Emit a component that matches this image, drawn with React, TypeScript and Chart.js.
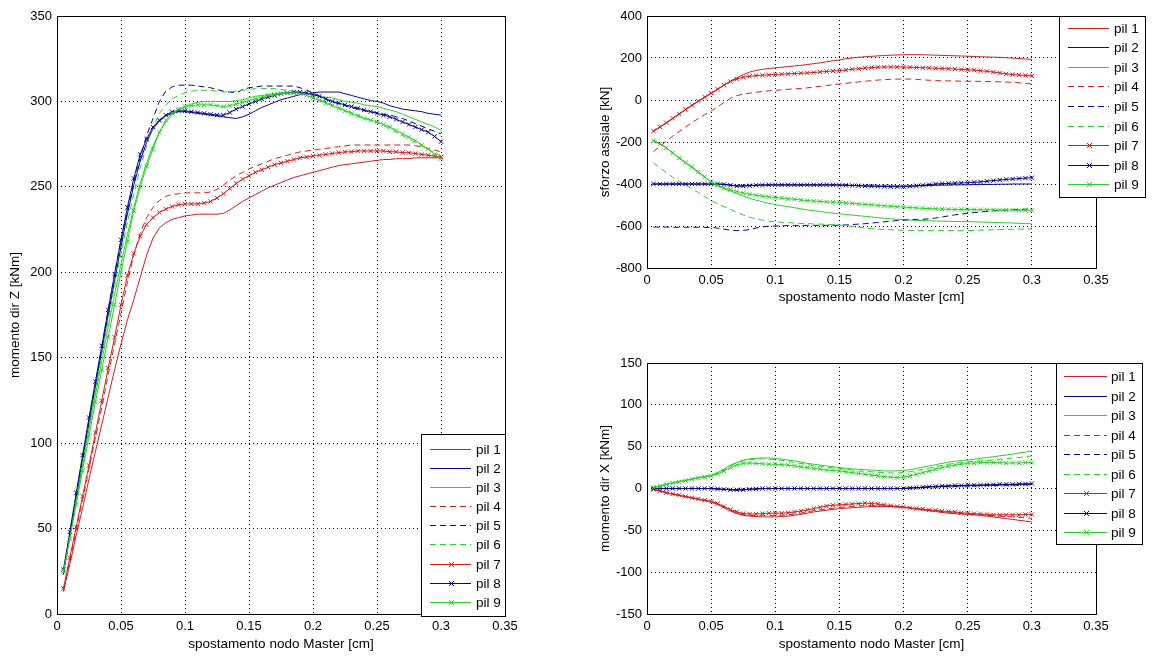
import React, { useEffect, useRef } from "react";
import { Chart, registerables } from "chart.js";

Chart.register(...registerables);

const FONT = '"Liberation Sans", Arial, Helvetica, sans-serif';

// ---------- shared data ----------
const seriesLabels = ["pil 1", "pil 2", "pil 3", "pil 4", "pil 5", "pil 6", "pil 7", "pil 8", "pil 9"];
const seriesColors = ["#cc2020", "#06068c", "#2ccf2c", "#cc2020", "#06068c", "#2ccf2c", "#cc2020", "#06068c", "#2ccf2c"];
const seriesDashed = [false, false, false, true, true, true, false, false, false];
const seriesMarked = [false, false, false, false, false, false, true, true, true];

const xTicks = [0, 0.05, 0.1, 0.15, 0.2, 0.25, 0.3, 0.35];
const xTitle = "spostamento nodo Master [cm]";

const xSteps = [
  0.005, 0.01, 0.015, 0.02, 0.025, 0.03, 0.035, 0.04, 0.045, 0.05,
  0.055, 0.06, 0.065, 0.07, 0.075, 0.08, 0.085, 0.09, 0.095, 0.1,
  0.105, 0.11, 0.115, 0.12, 0.125, 0.13, 0.135, 0.14, 0.145, 0.15,
  0.155, 0.16, 0.165, 0.17, 0.175, 0.18, 0.185, 0.19, 0.195, 0.2,
  0.205, 0.21, 0.215, 0.22, 0.225, 0.23, 0.235, 0.24, 0.245, 0.25,
  0.255, 0.26, 0.265, 0.27, 0.275, 0.28, 0.285, 0.29, 0.295, 0.3,
];

// ---------- momento dir Z ----------
const mzTicks = [0, 50, 100, 150, 200, 250, 300, 350];
const mzPil1 = [
  13, 29, 46, 62, 79, 95, 111, 127, 143, 158,
  172, 184, 197, 210, 220, 226, 229, 231, 232, 233,
  233.5, 234, 234, 234, 234, 234.5, 236.5, 239, 241.5, 243.5,
  245.5, 247.5, 249.5, 251, 252.5, 254, 255.5, 256.5, 257.5, 258.5,
  259.5, 260.5, 261.5, 262.5, 263, 263.5, 264, 264.5, 265, 265.5,
  266, 266, 266.5, 266.5, 266.5, 267, 267, 267, 267, 267,
];
const mzPil2 = [
  24, 46, 68, 90, 112, 133, 154, 175, 195, 215,
  234, 251, 265, 276, 284, 288.5, 291.5, 293, 294, 294,
  293.5, 293, 292.5, 292, 291.5, 291, 290.5, 290, 291, 292.5,
  294.5, 296.5, 298, 299.5, 301, 302, 303, 304, 304.5, 305,
  305.5, 305.5, 305.5, 305.5, 304.5, 303.5, 302.5, 301.5, 300.5, 300,
  299, 297.5, 296.5, 295.5, 295, 294.5, 294, 293, 292.5, 292,
];
const mzPil3 = [
  24, 45, 66, 87, 108, 128, 148, 168, 187, 205,
  222, 238, 252, 264, 274, 282, 288, 292, 295, 297,
  298.5, 299.5, 300, 300, 300, 300, 300, 300.5, 301, 302,
  303, 303.5, 304, 304.5, 305, 305, 305, 305, 304.5, 304,
  303, 302.5, 302, 301, 300, 299.5, 299, 298, 297.5, 297,
  296, 295, 294, 292.5, 291, 289.5, 288, 286.5, 285, 283,
];
const mzPil4 = [
  14, 31, 49, 67, 85, 103, 121, 140, 158, 176,
  194, 210, 223, 232, 238, 242, 244.5, 245.5, 246, 246.5,
  246.5, 246.5, 246.5, 247, 248.5, 251, 254, 256.5, 258.5, 260.5,
  262, 263.5, 265, 266.5, 267.5, 268.5, 269.5, 270.5, 271, 271.5,
  272, 272.5, 273, 273.5, 274, 274.5, 274.5, 274.5, 274.5, 274.5,
  274.5, 274.5, 274.5, 274.5, 274.5, 274, 273.5, 272.5, 271.5, 270.5,
];
const mzPil5 = [
  23, 46, 69, 91, 113, 135, 156, 178, 199, 219,
  236, 253, 267, 280, 290, 300, 306, 308.5, 309.5, 309.5,
  309.5, 309, 308.5, 308, 307, 306, 305.5, 305, 307, 308,
  308.5, 309, 309, 309, 309, 309, 309, 308, 306.5, 305,
  303, 301.5, 300, 298.5, 297.5, 296.5, 295.5, 294.5, 294, 293.5,
  292.5, 292, 291, 290, 288.5, 287, 285.5, 284, 282.5, 281,
];
const mzPil6 = [
  24, 46, 68, 89, 110, 131, 152, 172, 192, 211,
  229, 246, 261, 274, 285, 293, 298, 301.5, 303.5, 305,
  306, 306.5, 306.5, 306.5, 306, 305.5, 305.5, 306, 306.5, 307,
  307.5, 307.5, 307.5, 307.5, 307, 306.5, 306, 305, 304, 302.5,
  301, 299.5, 298, 296.5, 295, 293.5, 292, 290.5, 289, 287.5,
  286, 284, 282, 280, 278, 276, 274, 272, 270, 268,
];
const mzPil7 = [
  15, 33, 51, 69, 87, 106, 125, 144, 162, 181,
  198, 211, 221, 228, 232, 235, 237, 238.5, 239.5, 240,
  240, 240, 240.5, 241.5, 243.5, 246, 249, 252, 254.5, 256.5,
  258.5, 260, 261.5, 263, 264, 265, 266, 267, 267.5, 268,
  268.5, 269, 269.5, 270, 270.5, 270.5, 271, 271, 271, 271,
  271, 270.5, 270.5, 270, 270, 269.5, 269, 268.5, 268, 267.5,
];
const mzPil8 = [
  26, 48, 71, 93, 115, 136, 157, 178, 199, 219,
  238, 255, 269, 278, 285, 289, 292, 294, 294.5, 294.5,
  294, 293.5, 293, 292.5, 292, 292, 293.5, 295.5, 297, 298.5,
  300, 301.5, 302.5, 303.5, 304.5, 305, 305.5, 305.5, 305, 304,
  303, 301.5, 300, 299, 298, 297, 296, 295, 294, 293,
  292, 291, 289.5, 288, 286.5, 285, 283.5, 282, 279.5, 276.5,
];
const mzPil9 = [
  25, 44, 64, 84, 104, 124, 143, 162, 181, 200,
  218, 236, 250, 262, 272, 282, 289, 293, 295.5, 297,
  297.5, 298, 298, 298, 297.5, 297, 297.5, 298.5, 299.5, 300.5,
  301.5, 302.5, 303.5, 304, 304.5, 305, 305, 304.5, 303.5, 302,
  300.5, 299, 297.5, 296, 294.5, 293, 291.5, 290, 289, 288,
  286.5, 285, 283, 281, 279, 277, 274.5, 272, 269, 266.5,
];

// ---------- sforzo assiale ----------
const saTicks = [-800, -600, -400, -200, 0, 200, 400];
const saPil1 = [
  -150, -130, -110, -89, -68, -47, -27, -7, 12, 31,
  50, 70, 90, 106, 120, 133, 141, 146, 150, 153,
  156, 159, 162, 165, 169, 173, 177, 182, 187, 191,
  196, 200, 203.5, 206, 208, 210, 212, 213.5, 214.5, 215.5,
  216, 216, 215.5, 214.5, 213.5, 212.5, 211.5, 210.5, 209.5, 208.5,
  207, 206, 205, 204, 203, 201.5, 199.5, 197.5, 195.5, 193,
];
const saPil2 = [
  -400, -400, -400, -400, -400, -400, -400, -400, -400, -400,
  -400, -401, -405, -409, -409, -407, -406, -405, -405, -405,
  -405, -405, -405, -405, -405, -405, -405, -405, -405, -405,
  -406, -407, -408, -409, -410, -410, -410, -410, -410, -410,
  -410, -409, -408, -407, -406, -405, -405, -404, -404, -404,
  -403, -403, -402, -402, -401, -401, -400, -400, -400, -400,
];
const saPil3 = [
  -190, -208, -228, -252, -276, -300, -322, -346, -368, -390,
  -408, -422, -434, -446, -458, -468, -477, -485, -492, -498,
  -503, -508, -513, -518, -523, -527, -531, -535, -539, -542,
  -545, -548, -551, -554, -557, -560, -563, -566, -568, -570,
  -572, -573, -574, -575, -576, -577, -578, -578, -579, -579,
  -580, -581, -582, -583, -584, -585, -586, -587, -588, -590,
];
const saPil4 = [
  -245, -222, -196, -172, -150, -129, -108, -88, -70, -52,
  -32, -12, 8, 21, 28, 33, 37, 40.5, 43.5, 46,
  48.5, 51, 53, 55, 58, 61.5, 65, 69, 72.5, 76,
  79.5, 83, 86, 89, 92, 95, 97, 98.5, 99.5, 100,
  99.5, 98, 96, 94, 92.5, 91.5, 91, 90.5, 90, 89.5,
  89, 88.5, 88, 87.5, 86.5, 85.5, 84, 82, 79, 76,
];
const saPil5 = [
  -605, -605, -605, -606, -606, -606, -606, -606, -607, -607,
  -610, -615, -620, -622, -621, -617, -610, -604, -601, -600,
  -599, -598, -598, -598, -597, -597, -597, -597, -597, -596,
  -595, -593, -591, -589, -586, -583, -580, -577, -574, -572,
  -570, -569, -568, -566, -562, -557, -552, -547, -543, -540,
  -536, -533, -530, -528, -526, -524, -523, -521, -520, -519,
];
const saPil6 = [
  -300, -322, -345, -368, -388, -405, -422, -440, -460, -479,
  -494, -508, -521, -535, -548, -558, -566, -572, -577, -580,
  -582, -584, -586, -588, -589, -590, -591, -592, -593, -595,
  -598, -602, -606, -610, -613, -615, -617, -618, -619, -620,
  -621, -621, -622, -622, -622, -622, -622, -622, -622, -622,
  -621, -620, -619, -618, -617, -616, -616, -615, -615, -614,
];
const saPil7 = [
  -148, -128, -108, -87, -66, -45, -25, -5, 14, 33,
  52, 71, 88, 100, 108, 113, 116, 118, 120, 121.5,
  123, 124.5, 126, 127.5, 129, 131, 133.5, 136, 138, 140,
  143, 146, 149, 152, 154.5, 156, 157, 157.5, 157.5, 157,
  156, 155, 153.5, 152.5, 151, 150, 148.5, 147, 145.5, 144,
  142, 139.5, 136.5, 133, 129, 124.5, 121.5, 119, 117, 115,
];
const saPil8 = [
  -400, -400, -400, -400, -400, -400, -400, -400, -400, -400,
  -400, -402, -406, -410, -410, -408, -406, -405, -404, -404,
  -404, -404, -404, -404, -404, -404, -404, -404, -404, -405,
  -406, -407, -408, -409, -410, -411, -412, -413, -413, -413,
  -411, -409, -406, -403, -400, -398, -397, -396, -395, -394,
  -392, -390, -387, -384, -381, -378, -376, -374, -372, -370,
];
const saPil9 = [
  -195, -210, -228, -252, -275, -297, -318, -342, -366, -390,
  -406, -418, -428, -436, -443, -449, -454, -458, -461, -464,
  -467, -470, -473, -476, -479, -481, -483, -485, -486, -487,
  -490, -492, -495, -497, -499, -502, -504, -506, -508, -510,
  -512, -514, -516, -517, -518, -519, -520, -521, -521, -522,
  -522, -523, -523, -523, -524, -524, -524, -525, -525, -525,
];

// ---------- momento dir X ----------
const mxTicks = [-150, -100, -50, 0, 50, 100, 150];
const mxPil1 = [
  -1, -3, -5, -7, -8.5, -10, -11.5, -13, -14.5, -16,
  -19, -23, -27, -30, -32, -33, -33.5, -34, -34, -34,
  -33.5, -33, -32, -31, -29.5, -28, -27, -26, -25, -24,
  -23.5, -23, -22.5, -22, -21.5, -21.5, -21.5, -21.5, -22, -22.5,
  -23.5, -24.5, -25.5, -26.5, -27.5, -28.5, -29.5, -30, -30.5, -31,
  -31.5, -32, -33, -34, -35, -36, -37, -38, -39, -40,
];
const mxPil2 = [
  0, 0, 0, 0, 0, 0, 0, 0, 0, 0,
  -0.5, -1, -1.5, -2, -1.5, -1, -0.5, 0, 0, 0,
  0, 0, 0, 0, 0, 0, 0, 0, 0, 0,
  0, 0, 0, 0, 0, 0, 0, 0, 0, 0,
  0.5, 1, 1.5, 2, 2, 2.5, 3, 3, 3.5, 3.5,
  3.5, 4, 4, 4, 4.5, 4.5, 4.5, 5, 5, 5,
];
const mxPil3 = [
  1, 3, 5, 7, 8.5, 10, 11.5, 13, 14.5, 16,
  19, 23, 28, 31, 34, 35.5, 36, 36.5, 36.5, 36,
  35, 34, 33, 31.5, 30, 29, 28, 27, 26, 25,
  24, 23.5, 23, 22.5, 22, 21.5, 21, 21, 21, 21.5,
  22.5, 24, 25.5, 27, 28.5, 30, 31.5, 32.5, 33.5, 34,
  35, 36, 37, 38, 39, 40, 41, 42.5, 43.5, 45,
];
const mxPil4 = [
  -1, -3, -5, -6.5, -8, -9.5, -11, -12.5, -14, -15.5,
  -18.5, -22, -26, -29, -31, -32, -32.5, -32.5, -32.5, -32.5,
  -32, -31.5, -30.5, -29.5, -28, -26.5, -25.5, -24.5, -23.5, -22.5,
  -22, -21.5, -21, -20.5, -20.5, -20.5, -21, -21.5, -22, -22.5,
  -23.5, -24.5, -25.5, -26.5, -27, -28, -28.5, -29.5, -30, -30.5,
  -31, -31.5, -32, -32.5, -33, -33.5, -34, -34.5, -35, -35.5,
];
const mxPil5 = [
  0, 0, 0, 0, 0, 0, 0, 0, 0, 0,
  -0.5, -1, -1.5, -1.5, -1.5, -1, -0.5, 0, 0, 0,
  0, 0, 0, 0, 0, 0, 0, 0, 0, 0,
  0, 0, 0, 0, 0, 0, 0, 0, 0, 0,
  0.5, 1, 1, 1.5, 2, 2, 2.5, 2.5, 3, 3,
  3, 3.5, 3.5, 3.5, 4, 4, 4, 4, 4.5, 4.5,
];
const mxPil6 = [
  1, 3, 5, 6.5, 8, 9.5, 11, 12.5, 14, 15.5,
  18.5, 22.5, 27, 30.5, 33, 34.5, 35, 35.5, 35, 34.5,
  33.5, 32.5, 31, 30, 28.5, 27.5, 26.5, 25.5, 24.5, 24,
  23, 22, 21, 20.5, 20, 19.5, 19, 18.5, 18.5, 19,
  20, 21.5, 23, 24.5, 26, 27.5, 29, 30, 31, 32,
  32.5, 33, 33.5, 34, 35, 35.5, 36.5, 37, 38, 39,
];
const mxPil7 = [
  -1, -3, -5, -6.5, -8, -9.5, -11, -12.5, -14, -15.5,
  -18, -21.5, -25, -28, -30, -30.5, -30.5, -30, -29.5, -29.5,
  -29.5, -29, -28, -27, -25.5, -24, -22.5, -21, -20, -19.5,
  -19, -18.5, -18, -17.5, -18, -18.5, -19.5, -20.5, -21.5, -22,
  -23, -24, -24.5, -25.5, -26, -27, -27.5, -28, -29, -29.5,
  -30, -30.5, -31, -31.5, -31.5, -31.5, -31.5, -31.5, -31, -31,
];
const mxPil8 = [
  0, 0, 0, 0, 0, 0, 0, 0, 0, 0,
  -0.5, -1, -1.5, -1.5, -1.5, -1, -0.5, 0, 0, 0,
  0, 0, 0, 0, 0, 0, 0, 0, 0, 0,
  0, 0, 0, 0, 0, 0, 0, 0, 0, 0,
  0.5, 1, 1.5, 2, 2.5, 3, 3, 3.5, 3.5, 4,
  4, 4, 4.5, 4.5, 5, 5, 5, 5.5, 5.5, 6,
];
const mxPil9 = [
  1, 3, 5, 6.5, 8, 9.5, 11, 12.5, 14, 15,
  17.5, 21, 25, 28, 30, 30.5, 30, 29.5, 29, 29,
  28.5, 28, 27, 26, 25, 24, 23, 22, 21.5, 21,
  20, 19, 18, 17, 16, 15, 14, 13.5, 13, 13.5,
  15, 17, 19, 21, 23, 25, 26.5, 28, 29, 30,
  30.5, 31, 31, 31, 31, 30.5, 30.5, 30.5, 31, 31,
];

// ---------- MATLAB-like box + legend plugin ----------
type LegendBox = { x: number; y: number; w: number; h: number; row0: number; gap: number; lx1: number; lx2: number; tx: number };

const matlabPlugin = {
  id: "matlab",
  afterDatasetsDraw(chart: any, _args: any, opts: any) {
    const { ctx, chartArea: a } = chart;
    ctx.save();
    ctx.setLineDash([]);
    ctx.strokeStyle = "#000";
    ctx.lineWidth = 1;
    const l = Math.round(a.left), t = Math.round(a.top), r = Math.round(a.right), b = Math.round(a.bottom);
    ctx.strokeRect(l + 0.5, t + 0.5, r - l, b - t);

    const L: LegendBox = opts.legend;
    if (L) {
      ctx.fillStyle = "#fff";
      ctx.fillRect(L.x, L.y, L.w, L.h);
      ctx.strokeStyle = "#000";
      ctx.strokeRect(L.x + 0.5, L.y + 0.5, L.w, L.h);
      ctx.font = `13.5px ${FONT}`;
      ctx.textBaseline = "middle";
      ctx.textAlign = "left";
      chart.data.datasets.forEach((ds: any, i: number) => {
        const y = Math.round(L.row0 + i * L.gap) + 0.5;
        ctx.strokeStyle = ds.borderColor;
        ctx.lineWidth = 1;
        ctx.setLineDash(ds.borderDash || []);
        ctx.beginPath();
        ctx.moveTo(L.lx1, y);
        ctx.lineTo(L.lx2, y);
        ctx.stroke();
        ctx.setLineDash([]);
        if (ds.pointRadius > 0) {
          const cx = Math.round((L.lx1 + L.lx2) / 2) + 0.5;
          const s = 2.5;
          ctx.beginPath();
          ctx.moveTo(cx - s, y - s);
          ctx.lineTo(cx + s, y + s);
          ctx.moveTo(cx + s, y - s);
          ctx.lineTo(cx - s, y + s);
          ctx.stroke();
        }
        ctx.fillStyle = "#000";
        ctx.fillText(ds.label, L.tx, y + 0.5);
      });
    }
    ctx.restore();
  },
};

// ---------- panel ----------
type PanelProps = {
  left: number;
  top: number;
  width: number;
  height: number;
  padTop: number;
  padRight: number;
  yAxisWidth: number;
  xAxisHeight: number;
  yMin: number;
  yMax: number;
  yTicks: number[];
  yTitle: string;
  series: number[][];
  legend: LegendBox;
};

function Panel(p: PanelProps) {
  const ref = useRef<HTMLCanvasElement>(null);
  useEffect(() => {
    if (!ref.current) return;
    const tickFont = { family: FONT, size: 13 };
    const titleFont = { family: FONT, size: 13.5 };
    const datasets = p.series.map((arr, i) => ({
      label: seriesLabels[i],
      data: xSteps.map((x, j) => ({ x, y: arr[j] })),
      borderColor: seriesColors[i],
      backgroundColor: seriesColors[i],
      borderWidth: 1,
      borderDash: seriesDashed[i] ? [6, 4] : [],
      pointStyle: "crossRot" as const,
      pointRadius: seriesMarked[i] ? 3 : 0,
      pointBorderColor: seriesColors[i],
      pointBorderWidth: 1,
      pointHoverRadius: 0,
      tension: 0,
      fill: false,
      order: 8 - i,
    }));
    const chart = new Chart(ref.current, {
      type: "line",
      data: { datasets },
      plugins: [matlabPlugin as any],
      options: {
        animation: false,
        responsive: false,
        devicePixelRatio: 1,
        events: [],
        layout: { padding: { left: 0, top: p.padTop, right: p.padRight, bottom: 0 } },
        plugins: {
          legend: { display: false },
          tooltip: { enabled: false },
          matlab: { legend: p.legend },
        } as any,
        scales: {
          x: {
            type: "linear",
            min: 0,
            max: 0.35,
            afterBuildTicks: (s: any) => {
              s.ticks = xTicks.map((value) => ({ value }));
            },
            afterFit: (s: any) => {
              s.height = p.xAxisHeight;
            },
            ticks: {
              autoSkip: false,
              maxRotation: 0,
              padding: 5,
              color: "#000",
              font: tickFont,
              callback: (v: any) => String(Math.round(Number(v) * 100) / 100),
            },
            grid: { color: "#000", lineWidth: 1, drawTicks: false },
            border: { display: false, dash: [1, 3] },
            title: { display: true, text: xTitle, color: "#000", font: titleFont, padding: { top: 0, bottom: 5 } },
          },
          y: {
            type: "linear",
            min: p.yMin,
            max: p.yMax,
            afterBuildTicks: (s: any) => {
              s.ticks = p.yTicks.map((value) => ({ value }));
            },
            afterFit: (s: any) => {
              s.width = p.yAxisWidth;
            },
            ticks: {
              autoSkip: false,
              padding: 5,
              color: "#000",
              font: tickFont,
              callback: (v: any) => String(v),
            },
            grid: { color: "#000", lineWidth: 1, drawTicks: false },
            border: { display: false, dash: [1, 3] },
            title: { display: true, text: p.yTitle, color: "#000", font: titleFont, padding: { top: 7, bottom: 0 } },
          },
        },
      },
    } as any);
    return () => chart.destroy();
  }, []);
  return (
    <canvas
      ref={ref}
      width={p.width}
      height={p.height}
      style={{ position: "absolute", left: p.left, top: p.top, width: p.width, height: p.height }}
    />
  );
}

export default function App() {
  return (
    <div style={{ position: "fixed", left: 0, top: 0, width: 1160, height: 657, background: "#fff", overflow: "hidden" }}>
      <Panel
        left={0}
        top={0}
        width={545}
        height={657}
        padTop={16}
        padRight={40}
        yAxisWidth={57}
        xAxisHeight={43}
        yMin={0}
        yMax={350}
        yTicks={mzTicks}
        yTitle="momento dir Z [kNm]"
        series={[mzPil1, mzPil2, mzPil3, mzPil4, mzPil5, mzPil6, mzPil7, mzPil8, mzPil9]}
        legend={{ x: 421, y: 434, w: 84, h: 182, row0: 449.2, gap: 19.05, lx1: 430, lx2: 471, tx: 476 }}
      />
      <Panel
        left={590}
        top={0}
        width={570}
        height={310}
        padTop={16}
        padRight={64}
        yAxisWidth={57}
        xAxisHeight={42}
        yMin={-800}
        yMax={400}
        yTicks={saTicks}
        yTitle="sforzo assiale [kN]"
        series={[saPil1, saPil2, saPil3, saPil4, saPil5, saPil6, saPil7, saPil8, saPil9]}
        legend={{ x: 469, y: 16, w: 86, h: 181, row0: 27.5, gap: 19.6, lx1: 478, lx2: 519, tx: 524 }}
      />
      <Panel
        left={590}
        top={330}
        width={570}
        height={327}
        padTop={33}
        padRight={64}
        yAxisWidth={57}
        xAxisHeight={43}
        yMin={-150}
        yMax={150}
        yTicks={mxTicks}
        yTitle="momento dir X [kNm]"
        series={[mxPil1, mxPil2, mxPil3, mxPil4, mxPil5, mxPil6, mxPil7, mxPil8, mxPil9]}
        legend={{ x: 466, y: 33, w: 86, h: 181, row0: 46, gap: 19.5, lx1: 474, lx2: 517, tx: 521 }}
      />
    </div>
  );
}
